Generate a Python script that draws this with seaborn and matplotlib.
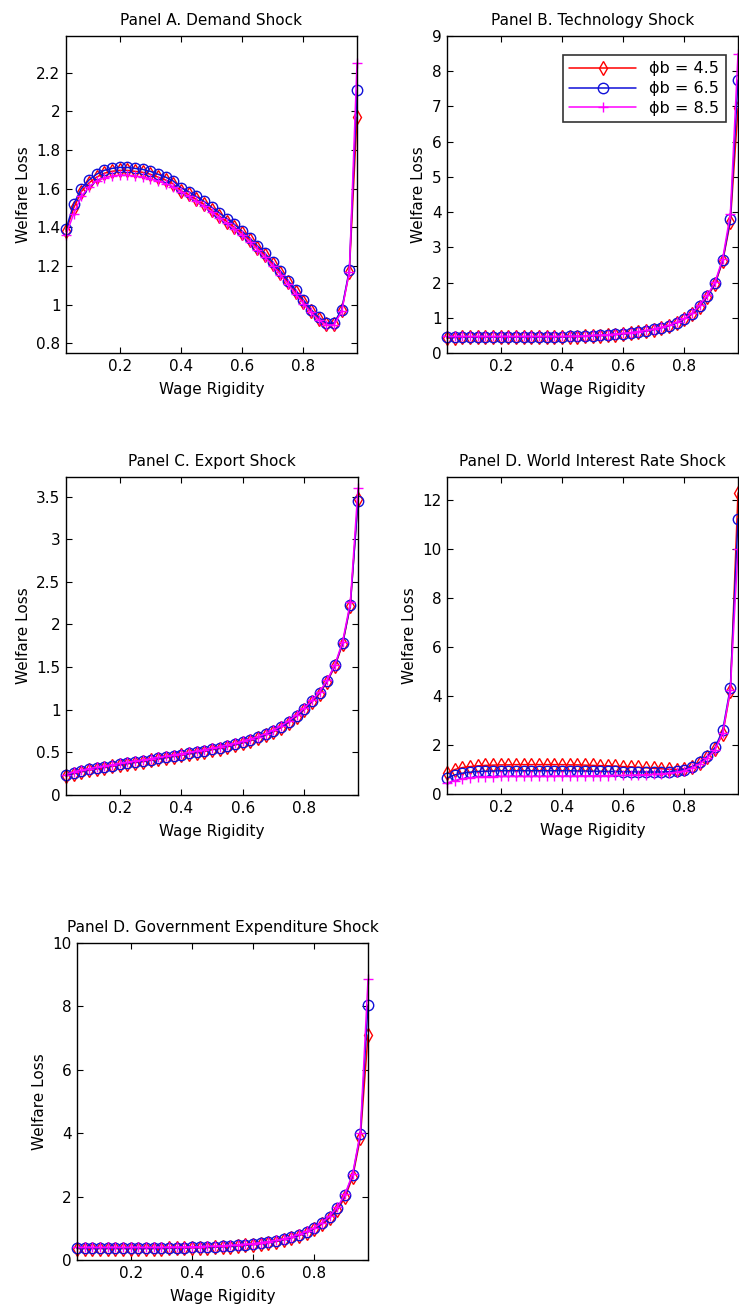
import matplotlib
matplotlib.use("Agg")
import matplotlib.pyplot as plt
import seaborn as sns

sns.set_style("ticks")
plt.rcParams['font.family'] = ['DejaVu Sans']
plt.rcParams['text.color'] = 'black'
plt.rcParams['axes.labelcolor'] = 'black'

# wage rigidity grid
wage_rigidity = [0.025, 0.05, 0.075, 0.1, 0.125, 0.15, 0.175, 0.2, 0.225, 0.25,
                 0.275, 0.3, 0.325, 0.35, 0.375, 0.4, 0.425, 0.45, 0.475, 0.5,
                 0.525, 0.55, 0.575, 0.6, 0.625, 0.65, 0.675, 0.7, 0.725, 0.75,
                 0.775, 0.8, 0.825, 0.85, 0.875, 0.9, 0.925, 0.95, 0.975]

series_labels = ["ϕb = 4.5", "ϕb = 6.5", "ϕb = 8.5"]

# Panel A. Demand Shock
demand_45 = [1.38, 1.50, 1.585, 1.63, 1.66, 1.68, 1.69, 1.695, 1.695, 1.69, 1.685, 1.675, 1.66,
             1.645, 1.625, 1.59, 1.57, 1.545, 1.52, 1.49, 1.46, 1.43, 1.40, 1.37, 1.335, 1.295,
             1.255, 1.21, 1.165, 1.115, 1.065, 1.015, 0.965, 0.925, 0.90, 0.90, 0.97, 1.17, 1.97]
demand_65 = [1.39, 1.52, 1.60, 1.645, 1.675, 1.695, 1.705, 1.71, 1.71, 1.705, 1.70, 1.69, 1.675,
             1.66, 1.64, 1.605, 1.585, 1.56, 1.535, 1.505, 1.475, 1.445, 1.415, 1.38, 1.345, 1.305,
             1.265, 1.22, 1.175, 1.125, 1.075, 1.025, 0.975, 0.935, 0.905, 0.905, 0.975, 1.18, 2.11]
demand_85 = [1.36, 1.47, 1.56, 1.61, 1.64, 1.655, 1.665, 1.67, 1.67, 1.665, 1.66, 1.65, 1.64,
             1.625, 1.61, 1.585, 1.56, 1.535, 1.51, 1.48, 1.45, 1.42, 1.39, 1.36, 1.325, 1.285,
             1.245, 1.20, 1.155, 1.105, 1.055, 1.005, 0.96, 0.92, 0.895, 0.895, 0.965, 1.17, 2.25]

# Panel B. Technology Shock
tech_45 = [0.42, 0.44, 0.45, 0.45, 0.45, 0.45, 0.45, 0.45, 0.45, 0.45, 0.45, 0.45, 0.45,
           0.45, 0.45, 0.45, 0.46, 0.46, 0.47, 0.48, 0.49, 0.50, 0.52, 0.54, 0.56, 0.59,
           0.62, 0.66, 0.71, 0.77, 0.85, 0.96, 1.10, 1.32, 1.60, 1.95, 2.60, 3.72, 6.95]
tech_65 = [0.45, 0.45, 0.46, 0.46, 0.46, 0.46, 0.46, 0.46, 0.46, 0.46, 0.46, 0.46, 0.46,
           0.46, 0.46, 0.46, 0.47, 0.47, 0.48, 0.49, 0.50, 0.51, 0.53, 0.55, 0.57, 0.60,
           0.63, 0.67, 0.72, 0.78, 0.86, 0.97, 1.12, 1.34, 1.62, 1.98, 2.63, 3.80, 7.75]
tech_85 = [0.47, 0.47, 0.47, 0.47, 0.47, 0.47, 0.47, 0.47, 0.47, 0.47, 0.47, 0.47, 0.47,
           0.47, 0.47, 0.47, 0.48, 0.48, 0.49, 0.50, 0.51, 0.52, 0.54, 0.56, 0.58, 0.61,
           0.64, 0.68, 0.73, 0.79, 0.87, 0.98, 1.13, 1.36, 1.64, 2.01, 2.68, 3.95, 8.50]

# Panel C. Export Shock
export_45 = [0.22, 0.25, 0.27, 0.29, 0.305, 0.32, 0.335, 0.35, 0.365, 0.38, 0.39, 0.405, 0.42,
             0.435, 0.45, 0.465, 0.48, 0.495, 0.51, 0.53, 0.545, 0.565, 0.585, 0.61, 0.635, 0.665,
             0.70, 0.74, 0.79, 0.85, 0.92, 1.00, 1.09, 1.19, 1.33, 1.51, 1.77, 2.22, 3.47]
export_65 = [0.23, 0.26, 0.28, 0.30, 0.315, 0.33, 0.345, 0.36, 0.375, 0.39, 0.40, 0.415, 0.43,
             0.445, 0.46, 0.475, 0.49, 0.505, 0.52, 0.54, 0.555, 0.575, 0.595, 0.62, 0.645, 0.675,
             0.71, 0.75, 0.80, 0.86, 0.93, 1.01, 1.10, 1.20, 1.34, 1.52, 1.78, 2.23, 3.45]
export_85 = [0.24, 0.27, 0.29, 0.31, 0.325, 0.34, 0.355, 0.37, 0.385, 0.40, 0.41, 0.425, 0.44,
             0.455, 0.47, 0.485, 0.50, 0.515, 0.53, 0.55, 0.565, 0.585, 0.605, 0.63, 0.655, 0.685,
             0.72, 0.76, 0.81, 0.87, 0.94, 1.02, 1.11, 1.21, 1.35, 1.53, 1.80, 2.26, 3.60]

# Panel D. World Interest Rate Shock
interest_45 = [0.85, 1.00, 1.08, 1.12, 1.15, 1.17, 1.18, 1.19, 1.19, 1.20, 1.20, 1.20, 1.20,
               1.20, 1.20, 1.20, 1.19, 1.19, 1.18, 1.17, 1.16, 1.15, 1.14, 1.12, 1.11, 1.09,
               1.07, 1.05, 1.03, 1.01, 1.00, 1.03, 1.12, 1.28, 1.52, 1.85, 2.45, 4.20, 12.30]
interest_65 = [0.65, 0.78, 0.85, 0.89, 0.92, 0.93, 0.94, 0.95, 0.95, 0.95, 0.95, 0.95, 0.95,
               0.95, 0.95, 0.95, 0.95, 0.94, 0.94, 0.93, 0.93, 0.92, 0.92, 0.91, 0.91, 0.90,
               0.90, 0.90, 0.90, 0.91, 0.94, 1.00, 1.12, 1.30, 1.55, 1.90, 2.60, 4.35, 11.25]
interest_85 = [0.45, 0.55, 0.62, 0.66, 0.69, 0.70, 0.71, 0.72, 0.72, 0.72, 0.72, 0.72, 0.72,
               0.72, 0.73, 0.73, 0.73, 0.73, 0.74, 0.74, 0.75, 0.75, 0.76, 0.76, 0.77, 0.78,
               0.79, 0.80, 0.82, 0.85, 0.89, 0.95, 1.06, 1.22, 1.47, 1.80, 2.50, 4.25, 10.00]

# Panel D (sic). Government Expenditure Shock
gov_45 = [0.36, 0.36, 0.36, 0.36, 0.36, 0.36, 0.36, 0.36, 0.36, 0.36, 0.36, 0.36, 0.37,
          0.37, 0.37, 0.38, 0.38, 0.39, 0.40, 0.41, 0.42, 0.44, 0.46, 0.48, 0.51, 0.54,
          0.58, 0.63, 0.69, 0.77, 0.86, 0.98, 1.13, 1.33, 1.58, 1.98, 2.62, 3.85, 7.10]
gov_65 = [0.38, 0.38, 0.38, 0.38, 0.38, 0.38, 0.38, 0.38, 0.38, 0.38, 0.38, 0.38, 0.39,
          0.39, 0.39, 0.40, 0.40, 0.41, 0.42, 0.43, 0.44, 0.46, 0.48, 0.50, 0.53, 0.56,
          0.60, 0.65, 0.71, 0.79, 0.88, 1.00, 1.16, 1.37, 1.63, 2.05, 2.68, 3.97, 8.05]
gov_85 = [0.40, 0.40, 0.40, 0.40, 0.40, 0.40, 0.40, 0.40, 0.40, 0.40, 0.40, 0.40, 0.41,
          0.41, 0.41, 0.42, 0.42, 0.43, 0.44, 0.45, 0.46, 0.48, 0.50, 0.52, 0.55, 0.58,
          0.62, 0.67, 0.73, 0.81, 0.90, 1.02, 1.18, 1.39, 1.66, 2.08, 2.72, 4.02, 8.85]

colors = ["red", "#1010d8", "magenta"]
markers = ["d", "o", "+"]

fig = plt.figure(figsize=(7.39, 13.13), dpi=100)
W, H = 739, 1313


def make_ax(left, top, right, bottom):
    return fig.add_axes([left / W, 1 - bottom / H, (right - left) / W, (bottom - top) / H])


panels = [
    ("Panel A. Demand Shock", [demand_45, demand_65, demand_85], (66, 36, 357, 353),
     (0.75, 2.39), [0.8, 1, 1.2, 1.4, 1.6, 1.8, 2, 2.2]),
    ("Panel B. Technology Shock", [tech_45, tech_65, tech_85], (447, 36, 738, 353),
     (0, 9), list(range(0, 10))),
    ("Panel C. Export Shock", [export_45, export_65, export_85], (66, 477, 358, 795),
     (0, 3.73), [0, 0.5, 1, 1.5, 2, 2.5, 3, 3.5]),
    ("Panel D. World Interest Rate Shock", [interest_45, interest_65, interest_85], (447, 477, 738, 794),
     (0, 12.95), [0, 2, 4, 6, 8, 10, 12]),
    ("Panel D. Government Expenditure Shock", [gov_45, gov_65, gov_85], (77, 943, 368, 1260),
     (0, 10), [0, 2, 4, 6, 8, 10]),
]

for i, (title, ys, box, ylim, yticks) in enumerate(panels):
    ax = make_ax(*box)
    for y, c, m, lab in zip(ys, colors, markers, series_labels):
        sns.lineplot(x=wage_rigidity, y=y, ax=ax, color=c, marker=m,
                     markerfacecolor="none", markeredgecolor=c, markeredgewidth=1.0,
                     markersize=7.5, linewidth=1.1, clip_on=False, label=lab)
    ax.set_xlim(0.025, 0.975)
    ax.set_ylim(*ylim)
    ax.set_xticks([0.2, 0.4, 0.6, 0.8])
    ax.set_xticklabels(["0.2", "0.4", "0.6", "0.8"])
    ax.set_yticks(yticks)
    ax.set_yticklabels([f"{t:g}" for t in yticks])
    ax.tick_params(direction="in", top=True, right=True, length=4, width=0.8,
                   labelsize=11, pad=4, colors="black")
    for s in ax.spines.values():
        s.set_visible(True)
        s.set_linewidth(1.0)
        s.set_color("black")
    ax.set_title(title, fontsize=11, pad=8, color="black")
    ax.set_xlabel("Wage Rigidity", fontsize=11, labelpad=6, color="black")
    ax.set_ylabel("Welfare Loss", fontsize=11, labelpad=4, color="black")
    if i == 1:
        leg = ax.legend(loc="upper right", fontsize=11.5, frameon=True, fancybox=False,
                        edgecolor="black", handlelength=4.2, borderpad=0.4,
                        labelspacing=0.3, bbox_to_anchor=(0.985, 0.965))
        leg.get_frame().set_linewidth(1.2)
        for t in leg.get_texts():
            t.set_color("black")
    else:
        if ax.get_legend() is not None:
            ax.get_legend().remove()

fig.savefig("out.png", dpi=100)
